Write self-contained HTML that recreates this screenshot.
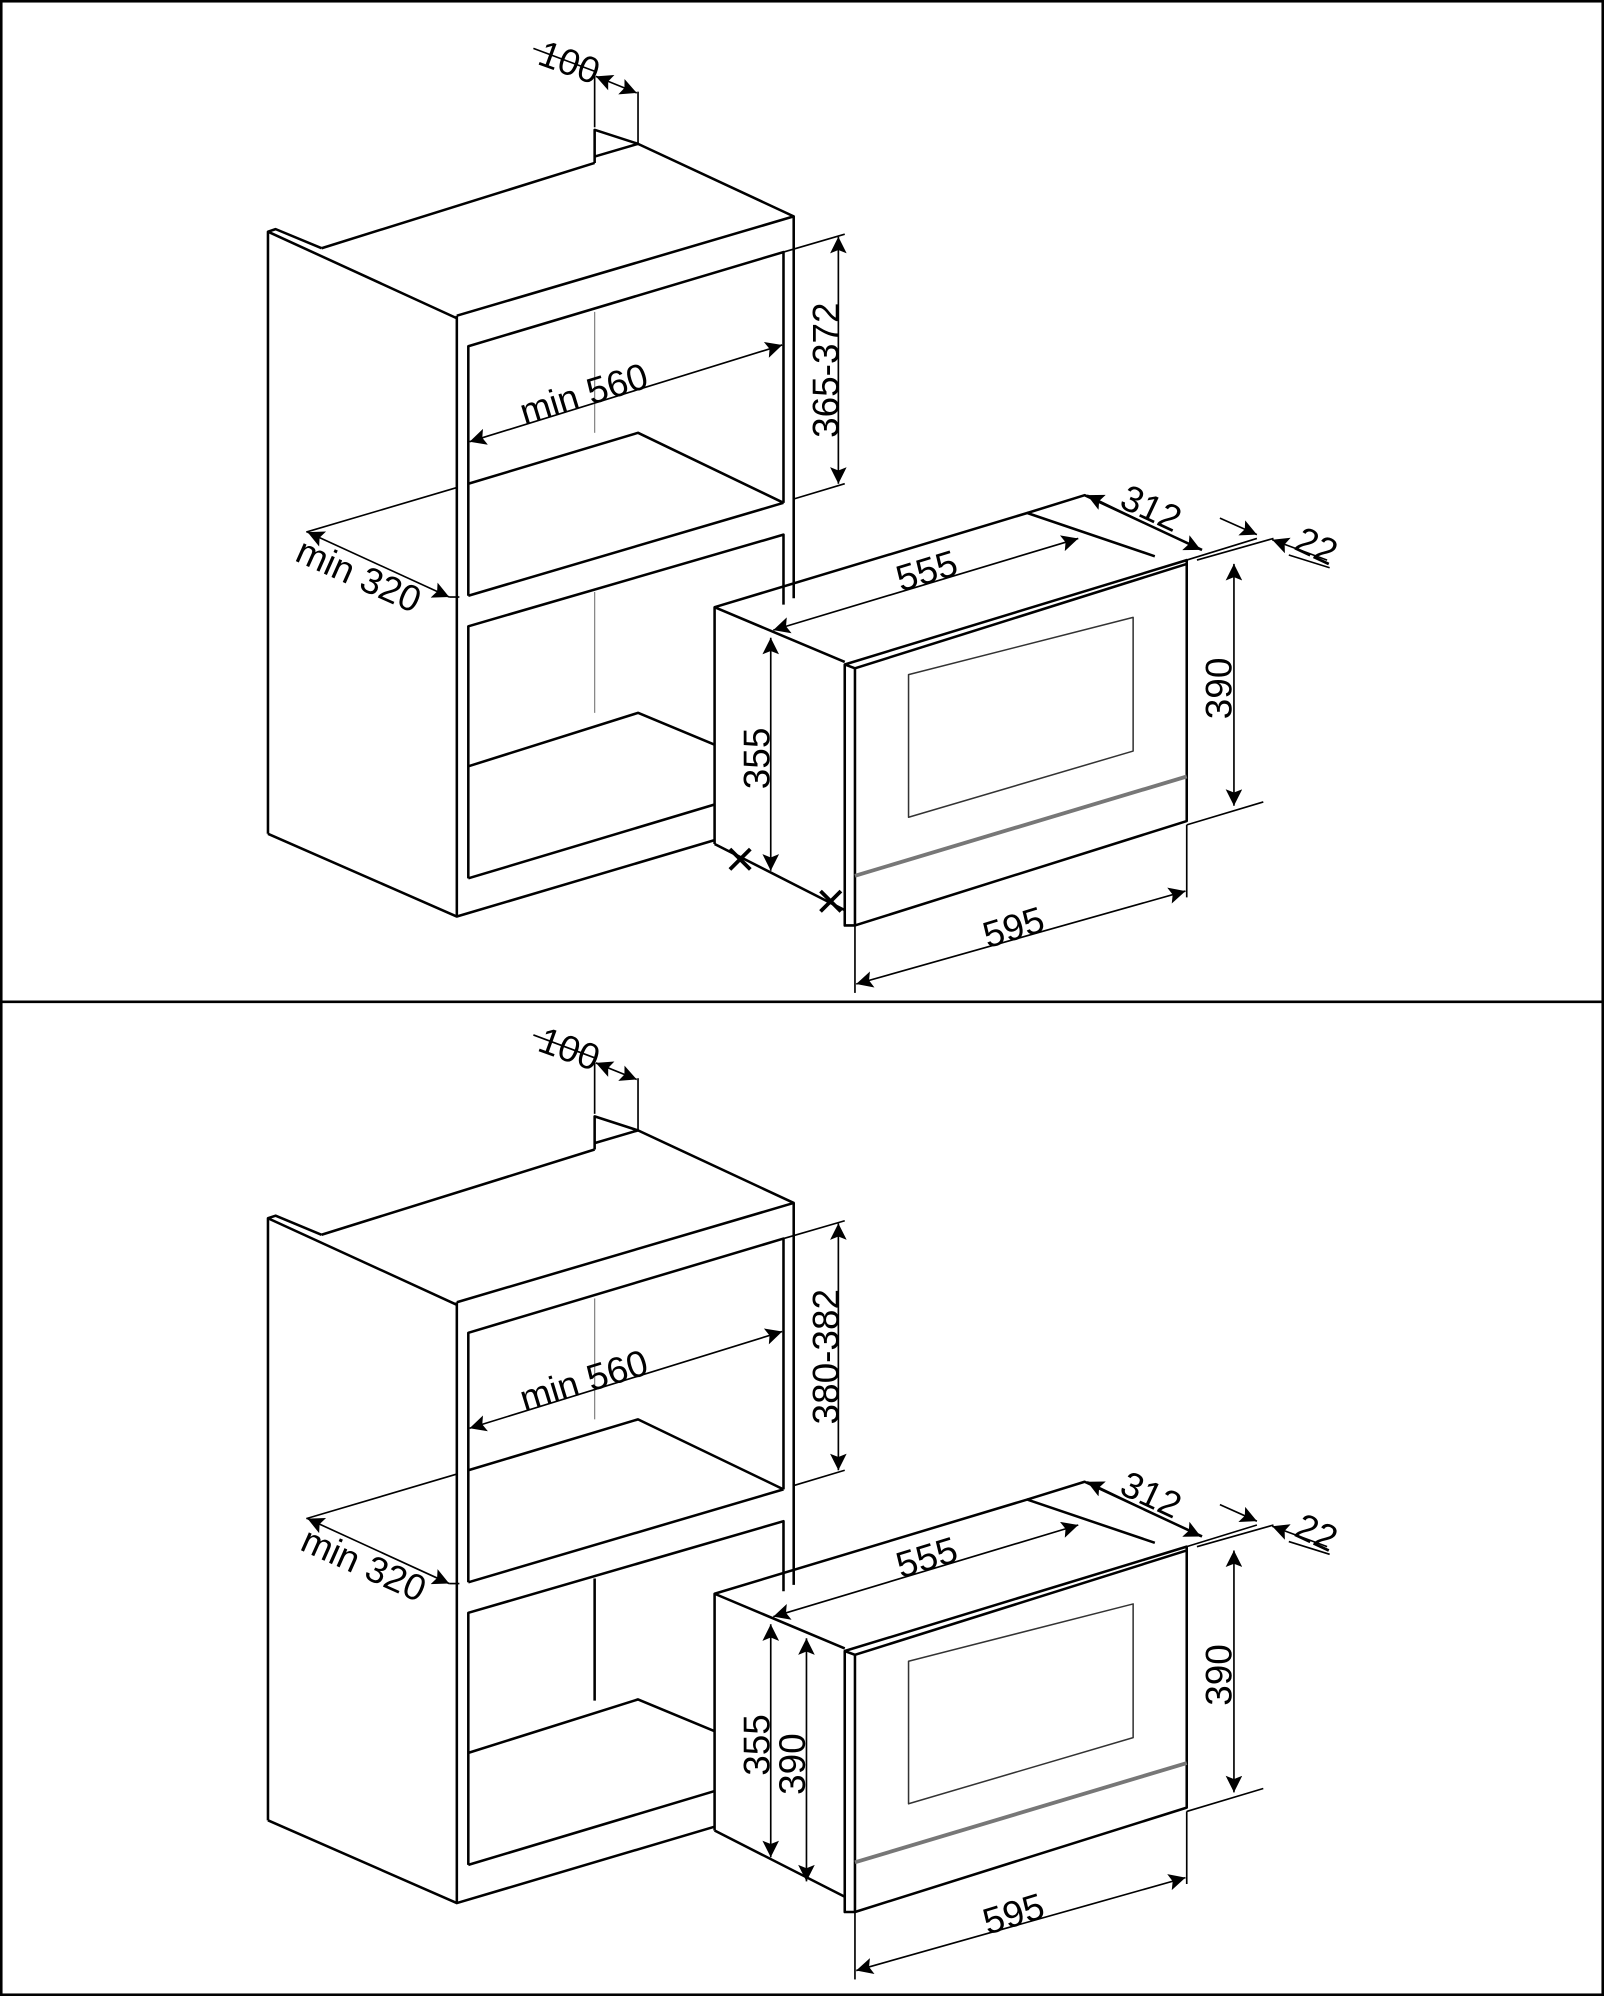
<!DOCTYPE html>
<html><head><meta charset="utf-8"><style>
html,body{margin:0;padding:0;background:#fff}
svg{display:block}
text{font-family:"Liberation Sans",Arial,sans-serif;font-size:29px;fill:#000}
</style></head><body>
<svg width="1604" height="1996" viewBox="0 0 1257 1568" preserveAspectRatio="none" xmlns="http://www.w3.org/2000/svg">
<defs>
<marker id="b" viewBox="0 0 10 10" refX="10" refY="5" markerWidth="19" markerHeight="13" orient="auto-start-reverse" markerUnits="userSpaceOnUse"><path d="M0,0 L10,5 L0,10 L2,5 z" fill="#000"/></marker>
</defs>
<rect x="1" y="1" width="1255" height="1566" fill="none" stroke="#000" stroke-width="2"/>
<line x1="0" y1="787" x2="1257" y2="787" stroke="#000" stroke-width="2"/>

<g id="p1" fill="none" stroke="#000" stroke-width="2" stroke-linejoin="round">
  <polyline points="252,195 466,128"/>
  <polyline points="466,128 466,102 500,113 466,123"/>
  <polyline points="500,113 622,170"/>
  <polyline points="210,655 210,182 216,180 252,195"/>
  <line x1="210" y1="182" x2="358" y2="250"/>
  <polyline points="358,248 622,170 622,470"/>
  <line x1="358" y1="248" x2="358" y2="720"/>
  <polyline points="210,655 358,720 560,660"/>
  <polyline points="367,468 367,272 614,198 614,395"/>
  <polyline points="367,380 500,340 614,395"/>
  <line x1="367" y1="468" x2="614" y2="395"/>
  <polyline points="367,690 367,492 614,420 614,475"/>
  <polyline points="367,602 500,560 560,585"/>
  <line x1="367" y1="690" x2="560" y2="632"/>
  <line x1="466" y1="245" x2="466" y2="340" stroke="#888" stroke-width="1"/>
  <line x1="466" y1="465" x2="466" y2="560" stroke="#888" stroke-width="1"/>
  <line x1="466" y1="58" x2="466" y2="100" stroke-width="1.3"/>
  <line x1="500" y1="72" x2="500" y2="113" stroke-width="1.3"/>
  <line x1="418" y1="38" x2="466" y2="56" stroke-width="1.3"/>
  <line x1="467" y1="60" x2="499" y2="73" stroke-width="1.3" marker-start="url(#b)" marker-end="url(#b)"/>
  <line x1="368" y1="347" x2="613" y2="271" stroke-width="1.3" marker-start="url(#b)" marker-end="url(#b)"/>
  <line x1="614" y1="198" x2="662" y2="184" stroke-width="1.3"/>
  <line x1="622" y1="392" x2="662" y2="380" stroke-width="1.3"/>
  <line x1="657" y1="186" x2="657" y2="380" stroke-width="1.3" marker-start="url(#b)" marker-end="url(#b)"/>
  <line x1="240" y1="418" x2="358" y2="383" stroke-width="1.3"/>
  <line x1="241" y1="418" x2="352" y2="469" stroke-width="1.3" marker-start="url(#b)" marker-end="url(#b)"/>
  <line x1="352" y1="469" x2="360" y2="469" stroke-width="1.3"/>
  <polyline points="805,403 850,389 942,432"/>
  <polyline points="560,663 560,477 805,403 905,437"/>
  <line x1="560" y1="477" x2="662" y2="520"/>
  <line x1="560" y1="663" x2="662" y2="715"/>
  <polygon points="662,522 930,440 930,645 670,727 662,727"/>
  <line x1="662" y1="522" x2="670" y2="525"/>
  <line x1="670" y1="525" x2="930" y2="443"/>
  <line x1="670" y1="525" x2="670" y2="727"/>
  <polygon points="712,530 888,485 888,590 712,642" stroke-width="1.2" stroke="#333"/>
  <line x1="670" y1="688" x2="930" y2="610" stroke="#777" stroke-width="3"/>
  <line x1="606" y1="495" x2="845" y2="423" stroke-width="1.3" marker-start="url(#b)" marker-end="url(#b)"/>
  <line x1="852" y1="389" x2="941" y2="432" stroke-width="1.3" marker-start="url(#b)" marker-end="url(#b)"/>
  <line x1="930" y1="440" x2="985" y2="423" stroke-width="1.3"/>
  <line x1="938" y1="440" x2="998" y2="423" stroke-width="1.3"/>
  <line x1="956" y1="407" x2="985" y2="420" stroke-width="1.3" marker-end="url(#b)"/>
  <line x1="1040" y1="440" x2="997" y2="424" stroke-width="1.3" marker-end="url(#b)"/>
  <line x1="1010" y1="436" x2="1042" y2="446" stroke-width="1.3"/>
  <line x1="930" y1="648" x2="990" y2="630" stroke-width="1.3"/>
  <line x1="967" y1="443" x2="967" y2="633" stroke-width="1.3" marker-start="url(#b)" marker-end="url(#b)"/>
  <line x1="670" y1="727" x2="670" y2="780" stroke-width="1.3"/>
  <line x1="930" y1="648" x2="930" y2="705" stroke-width="1.3"/>
  <line x1="671" y1="773" x2="929" y2="700" stroke-width="1.3" marker-start="url(#b)" marker-end="url(#b)"/>
</g>
<g fill="none" stroke="#000" stroke-width="2">
  <line x1="604" y1="501" x2="604" y2="684" stroke-width="1.3" marker-start="url(#b)" marker-end="url(#b)"/>
  <path d="M572,667 L588,683 M588,667 L572,683 M643,700 L659,716 M659,700 L643,716" stroke-width="3"/>
</g>
<text transform="translate(420,50) rotate(20)">100</text>
<text transform="translate(411,334) rotate(-17)">min 560</text>
<text transform="translate(657,344) rotate(-90)">365-372</text>
<text transform="translate(230,440) rotate(24)">min 320</text>
<text transform="translate(706,465) rotate(-17)">555</text>
<text transform="translate(876,398) rotate(25)">312</text>
<text transform="translate(1013,431) rotate(25)">22</text>
<text transform="translate(965,565) rotate(-90)">390</text>
<text transform="translate(603,620) rotate(-90)">355</text>
<text transform="translate(774,745) rotate(-17)">595</text>

<use href="#p1" transform="translate(0,775)"/>
<g fill="none" stroke="#000">
  <line x1="466" y1="1240" x2="466" y2="1340" stroke="#fff" stroke-width="3"/>
  <line x1="466" y1="1240" x2="466" y2="1336" stroke-width="2"/>
  <line x1="604" y1="1276" x2="604" y2="1459" stroke-width="1.3" marker-start="url(#b)" marker-end="url(#b)"/>
  <line x1="632" y1="1287" x2="632" y2="1478" stroke-width="1.3" marker-start="url(#b)" marker-end="url(#b)"/>
</g>
<text transform="translate(420,825) rotate(20)">100</text>
<text transform="translate(411,1109) rotate(-17)">min 560</text>
<text transform="translate(657,1119) rotate(-90)">380-382</text>
<text transform="translate(234,1217) rotate(24)">min 320</text>
<text transform="translate(706,1240) rotate(-17)">555</text>
<text transform="translate(876,1173) rotate(25)">312</text>
<text transform="translate(1013,1206) rotate(25)">22</text>
<text transform="translate(965,1340) rotate(-90)">390</text>
<text transform="translate(603,1395) rotate(-90)">355</text>
<text transform="translate(631,1410) rotate(-90)">390</text>
<text transform="translate(774,1520) rotate(-17)">595</text>
</svg>
</body></html>
